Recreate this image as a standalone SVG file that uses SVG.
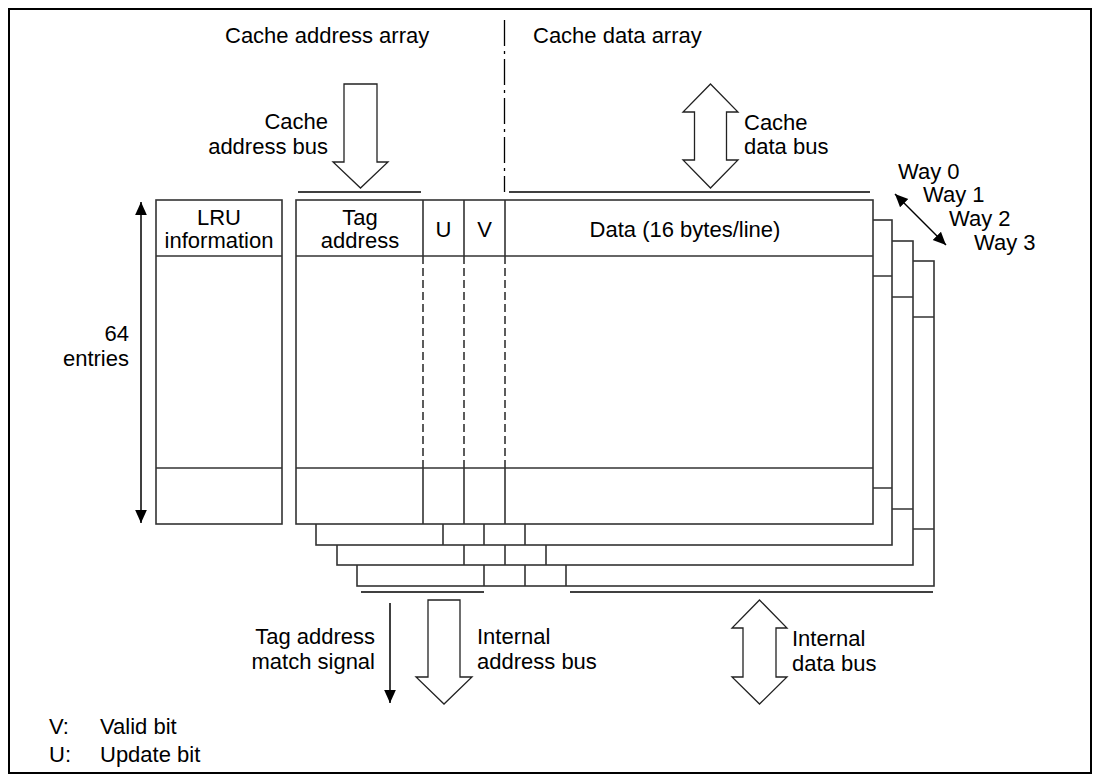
<svg xmlns="http://www.w3.org/2000/svg" width="1100" height="782" viewBox="0 0 1100 782">
<style>
text{font-family:"Liberation Sans",Arial,sans-serif;font-size:22px;fill:#000}
.c{text-anchor:middle}.e{text-anchor:end}
.box{fill:#fff;stroke:#333;stroke-width:1.6}
.ln{stroke:#333;stroke-width:1.6;fill:none}
.ds{stroke:#333;stroke-width:1.6;stroke-dasharray:8,4;fill:none}
.big{fill:#fff;stroke:#222;stroke-width:1.3}
.thin{stroke:#000;stroke-width:1.5;fill:none}
</style>
<defs>
<marker id="ah2" viewBox="0 0 10 10" refX="10" refY="5" markerWidth="13" markerHeight="13" markerUnits="userSpaceOnUse" orient="auto-start-reverse"><path d="M0,0.5L10,5L0,9.5z" fill="#000"/></marker>
</defs>
<rect x="9" y="9" width="1082" height="764" fill="#fff" stroke="#000" stroke-width="2"/>

<text x="225" y="43">Cache address array</text>
<text x="533" y="43">Cache data array</text>
<line x1="504.5" y1="20" x2="504.5" y2="192" stroke="#000" stroke-width="1.3" stroke-dasharray="26,5,3,5"/>

<g id="way3">
<rect class="box" x="357" y="261" width="577" height="325"/>
<line class="ln" x1="357" y1="317" x2="934" y2="317"/>
<line class="ln" x1="357" y1="529" x2="934" y2="529"/>
<line class="ln" x1="484" y1="529" x2="484" y2="586"/>
<line class="ln" x1="525" y1="529" x2="525" y2="586"/>
<line class="ln" x1="566" y1="529" x2="566" y2="586"/>
</g>
<g id="way2">
<rect class="box" x="337" y="241" width="576" height="324"/>
<line class="ln" x1="337" y1="297" x2="913" y2="297"/>
<line class="ln" x1="337" y1="509" x2="913" y2="509"/>
<line class="ln" x1="464" y1="509" x2="464" y2="565"/>
<line class="ln" x1="505" y1="509" x2="505" y2="565"/>
<line class="ln" x1="546" y1="509" x2="546" y2="565"/>
</g>
<g id="way1">
<rect class="box" x="316" y="220" width="576" height="325"/>
<line class="ln" x1="316" y1="276" x2="892" y2="276"/>
<line class="ln" x1="316" y1="488" x2="892" y2="488"/>
<line class="ln" x1="443" y1="488" x2="443" y2="545"/>
<line class="ln" x1="484" y1="488" x2="484" y2="545"/>
<line class="ln" x1="525" y1="488" x2="525" y2="545"/>
</g>
<g id="way0">
<rect class="box" x="296" y="200" width="577" height="324"/>
<line class="ln" x1="296" y1="256" x2="873" y2="256"/>
<line class="ln" x1="296" y1="468" x2="873" y2="468"/>
<line class="ln" x1="423" y1="200" x2="423" y2="256"/>
<line class="ln" x1="464" y1="200" x2="464" y2="256"/>
<line class="ln" x1="505" y1="200" x2="505" y2="256"/>
<line class="ds" x1="423" y1="256" x2="423" y2="468"/>
<line class="ds" x1="464" y1="256" x2="464" y2="468"/>
<line class="ds" x1="505" y1="256" x2="505" y2="468"/>
<line class="ln" x1="423" y1="468" x2="423" y2="524"/>
<line class="ln" x1="464" y1="468" x2="464" y2="524"/>
<line class="ln" x1="505" y1="468" x2="505" y2="524"/>
<text class="c" x="360" y="225">Tag</text>
<text class="c" x="360" y="248">address</text>
<text class="c" x="443.5" y="237">U</text>
<text class="c" x="484.5" y="237">V</text>
<text class="c" x="685" y="237">Data (16 bytes/line)</text>
</g>
<g id="lru">
<rect class="box" x="156" y="200" width="126" height="324"/>
<line class="ln" x1="156" y1="256" x2="282" y2="256"/>
<line class="ln" x1="156" y1="468" x2="282" y2="468"/>
<text class="c" x="219" y="225">LRU</text>
<text class="c" x="219" y="248">information</text>
</g>

<g id="connectors">
<line class="thin" x1="141" y1="202" x2="141" y2="523" marker-start="url(#ah2)" marker-end="url(#ah2)"/>
<line class="thin" x1="895" y1="194" x2="946" y2="245" marker-start="url(#ah2)" marker-end="url(#ah2)"/>
<line class="thin" x1="390" y1="603" x2="390" y2="703" marker-end="url(#ah2)"/>
<line class="thin" x1="298" y1="192" x2="421" y2="192"/>
<line class="thin" x1="509" y1="192" x2="870" y2="192"/>
<line class="thin" x1="361" y1="592" x2="484" y2="592"/>
<line class="thin" x1="570" y1="592" x2="933" y2="592"/>
<polygon class="big" points="344,84 377,84 377,162 388,162 360.5,188 333,162 344,162"/>
<polygon class="big" points="710.5,84 738,112 726.5,112 726.5,160 738,160 710.5,188 683,160 694.5,160 694.5,112 683,112"/>
<polygon class="big" points="428,600 460,600 460,677 472,677 444,704 416,677 428,677"/>
<polygon class="big" points="759.5,600 787,628 776,628 776,677 787,677 759.5,704 732,677 743,677 743,628 732,628"/>
</g>

<text class="e" x="328" y="129">Cache</text>
<text class="e" x="328" y="154">address bus</text>
<text x="744" y="130">Cache</text>
<text x="744" y="154">data bus</text>
<text x="898" y="179">Way 0</text>
<text x="923" y="202">Way 1</text>
<text x="949" y="226">Way 2</text>
<text x="974" y="250">Way 3</text>
<text class="e" x="129" y="341">64</text>
<text class="e" x="129" y="366">entries</text>
<text class="e" x="375" y="644">Tag address</text>
<text class="e" x="375" y="669">match signal</text>
<text x="477" y="644">Internal</text>
<text x="477" y="669">address bus</text>
<text x="792" y="646">Internal</text>
<text x="792" y="671">data bus</text>
<text x="49" y="734">V:</text>
<text x="100" y="734">Valid bit</text>
<text x="49" y="762">U:</text>
<text x="100" y="762">Update bit</text>
</svg>
